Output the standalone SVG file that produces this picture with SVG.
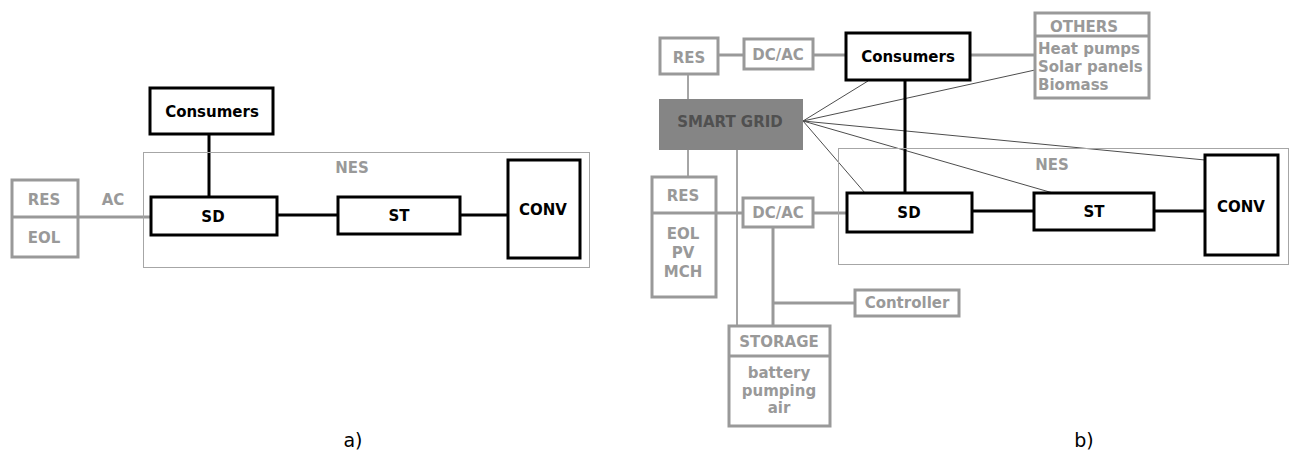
<svg xmlns="http://www.w3.org/2000/svg" width="1294" height="465" viewBox="0 0 1294 465">
<style>
.bk{fill:#fff;stroke:#000;stroke-width:3}
.gb{fill:#fff;stroke:#999;stroke-width:3}
.nes{fill:none;stroke:#a6a6a6;stroke-width:1}
.t{font-family:"DejaVu Sans",Verdana,sans-serif;font-weight:bold;font-size:15px;text-anchor:middle;fill:#000}
.g{fill:#999}
.cb{stroke:#000;stroke-width:3;fill:none}
.cg{stroke:#999;stroke-width:3;fill:none}
.ct{stroke:#4d4d4d;stroke-width:1;fill:none}
.lab{font-family:"DejaVu Sans",Verdana,sans-serif;font-size:19px;text-anchor:middle;fill:#000}
</style>
<rect width="1294" height="465" fill="#fff"/>
<g id="connectors">
<line class="cb" x1="209" y1="134" x2="209" y2="197"/>
<line class="cg" x1="78" y1="217" x2="151" y2="217"/>
<line class="cb" x1="277" y1="215" x2="338" y2="215"/>
<line class="cb" x1="460" y1="215" x2="508" y2="215"/>
<line class="cg" x1="718" y1="55" x2="744" y2="55"/>
<line class="cg" x1="813" y1="55" x2="846" y2="55"/>
<line class="cg" x1="970" y1="55" x2="1035" y2="55"/>
<line class="ct" x1="688" y1="74" x2="688" y2="99"/>
<line class="ct" x1="688" y1="150" x2="688" y2="177"/>
<line class="ct" x1="737" y1="150" x2="737" y2="326"/>
<line class="ct" x1="803" y1="121" x2="868" y2="81"/>
<line class="ct" x1="803" y1="121" x2="1035" y2="70"/>
<line class="ct" x1="803" y1="121" x2="1205" y2="160"/>
<line class="ct" x1="803" y1="121" x2="1053" y2="193"/>
<line class="ct" x1="803" y1="121" x2="865" y2="193"/>
<line class="cb" x1="905" y1="80" x2="905" y2="193"/>
<line class="cg" x1="716" y1="213" x2="743" y2="213"/>
<line class="cg" x1="813" y1="213" x2="847" y2="213"/>
<line class="cg" x1="773" y1="227" x2="773" y2="326"/>
<line class="cg" x1="773" y1="303" x2="855" y2="303"/>
<line class="cb" x1="972" y1="211" x2="1034" y2="211"/>
<line class="cb" x1="1154" y1="211" x2="1205" y2="211"/>
</g>
<g id="a-nes"><rect class="nes" x="143.5" y="152.5" width="446" height="115"/><text class="t g" x="352" y="173">NES</text></g>
<g id="a-ac"><text class="t g" x="113" y="205">AC</text></g>
<g id="a-consumers"><rect class="bk" x="150" y="88" width="123" height="46"/><text class="t" x="212" y="117">Consumers</text></g>
<g id="a-res"><rect class="gb" x="12" y="180" width="66" height="77"/><line class="cg" x1="12" y1="217" x2="78" y2="217"/><text class="t g" x="44" y="205">RES</text><text class="t g" x="44" y="243">EOL</text></g>
<g id="a-sd"><rect class="bk" x="151" y="197" width="126" height="38"/><text class="t" x="213" y="222">SD</text></g>
<g id="a-st"><rect class="bk" x="338" y="197" width="122" height="37"/><text class="t" x="399" y="221">ST</text></g>
<g id="a-conv"><rect class="bk" x="508" y="160" width="72" height="98"/><text class="t" x="543" y="215">CONV</text></g>
<g id="b-nes"><rect class="nes" x="838.5" y="148.5" width="450" height="116"/><text class="t g" x="1052" y="170">NES</text></g>
<g id="b-res-top"><rect class="gb" x="660" y="38" width="58" height="36"/><text class="t g" x="689" y="63">RES</text></g>
<g id="b-dcac-top"><rect class="gb" x="744" y="39" width="69" height="30"/><text class="t g" x="778" y="60">DC/AC</text></g>
<g id="b-consumers"><rect class="bk" x="846" y="33" width="124" height="47"/><text class="t" x="908" y="62">Consumers</text></g>
<g id="b-others"><rect class="gb" x="1035" y="13" width="114" height="85"/><line class="cg" x1="1035" y1="36" x2="1149" y2="36"/><text class="t g" x="1084" y="32">OTHERS</text><text class="t g" x="1038" y="54" style="text-anchor:start">Heat pumps</text><text class="t g" x="1038" y="72" style="text-anchor:start">Solar panels</text><text class="t g" x="1038" y="90" style="text-anchor:start">Biomass</text></g>
<g id="b-smartgrid"><rect x="659" y="99" width="144" height="51" fill="#858585"/><text class="t" x="730" y="127" style="fill:#505050">SMART GRID</text></g>
<g id="b-res-bottom"><rect class="gb" x="652" y="177" width="64" height="120"/><line class="cg" x1="652" y1="213" x2="716" y2="213"/><text class="t g" x="683" y="201">RES</text><text class="t g" x="683" y="239">EOL</text><text class="t g" x="683" y="258">PV</text><text class="t g" x="683" y="277">MCH</text></g>
<g id="b-dcac-bottom"><rect class="gb" x="743" y="198" width="70" height="29"/><text class="t g" x="778" y="218">DC/AC</text></g>
<g id="b-sd"><rect class="bk" x="847" y="193" width="125" height="39"/><text class="t" x="909" y="218">SD</text></g>
<g id="b-st"><rect class="bk" x="1034" y="193" width="120" height="37"/><text class="t" x="1094" y="217">ST</text></g>
<g id="b-conv"><rect class="bk" x="1205" y="155" width="73" height="100"/><text class="t" x="1241" y="212">CONV</text></g>
<g id="b-controller"><rect class="gb" x="855" y="290" width="104" height="26"/><text class="t g" x="907" y="308">Controller</text></g>
<g id="b-storage"><rect class="gb" x="729" y="326" width="101" height="100"/><line class="cg" x1="729" y1="356" x2="830" y2="356"/><text class="t g" x="779" y="347">STORAGE</text><text class="t g" x="779" y="378">battery</text><text class="t g" x="779" y="396">pumping</text><text class="t g" x="779" y="413">air</text></g>
<g id="labels"><text class="lab" x="353" y="447">a)</text><text class="lab" x="1084" y="447">b)</text></g>
</svg>
